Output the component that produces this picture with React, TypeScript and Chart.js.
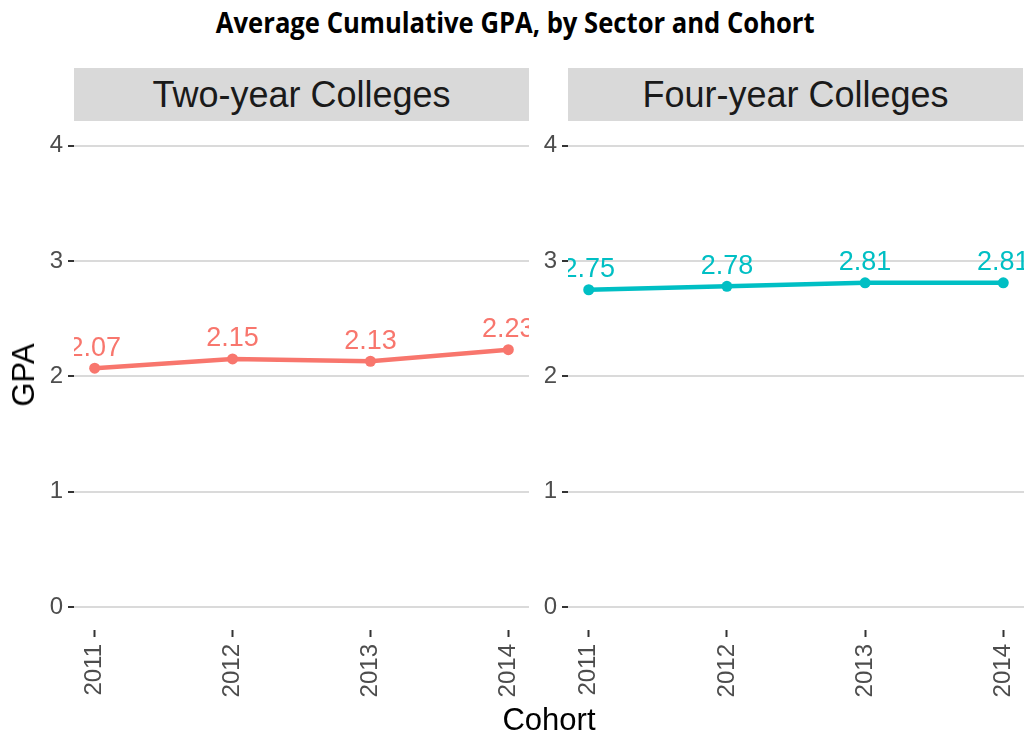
import React, { useEffect, useRef } from "react";
import { Chart, registerables } from "chart.js";

Chart.register(...registerables);

const cohorts = [2011, 2012, 2013, 2014];
const twoYearGPA = [2.07, 2.15, 2.13, 2.23];
const fourYearGPA = [2.75, 2.78, 2.81, 2.81];
const yTicks = [0, 1, 2, 3, 4];
const panelTitles = ["Two-year Colleges", "Four-year Colleges"];
const chartTitle = "Average Cumulative GPA, by Sector and Cohort";
const xTitle = "Cohort";
const yTitle = "GPA";
const seriesColors = ["#F8766D", "#00BFC4"];

const FONT = "'Liberation Sans', Arial, Helvetica, sans-serif";

const pointLabelPlugin = {
  id: "pointLabels",
  afterDatasetsDraw(chart: any) {
    const { ctx, chartArea } = chart;
    ctx.save();
    ctx.beginPath();
    ctx.rect(chartArea.left, chartArea.top, chartArea.right - chartArea.left, chartArea.bottom - chartArea.top);
    ctx.clip();
    chart.data.datasets.forEach((ds: any, i: number) => {
      const meta = chart.getDatasetMeta(i);
      meta.data.forEach((pt: any, j: number) => {
        const v = ds.data[j].y;
        ctx.fillStyle = ds.borderColor;
        ctx.font = `27px ${FONT}`;
        ctx.textAlign = "center";
        ctx.textBaseline = "middle";
        ctx.fillText(v.toFixed(2), pt.x, pt.y - 20);
      });
    });
    ctx.restore();
  },
};

function Panel(props: { values: number[]; color: string; left: number; width: number; yAxisWidth: number; padRight: number }) {
  const ref = useRef<HTMLCanvasElement>(null);
  useEffect(() => {
    if (!ref.current) return;
    const chart = new Chart(ref.current, {
      type: "line",
      data: {
        datasets: [
          {
            data: cohorts.map((c, i) => ({ x: c, y: props.values[i] })),
            borderColor: props.color,
            backgroundColor: props.color,
            borderWidth: 4.5,
            pointRadius: 5.5,
            pointHoverRadius: 5.5,
            pointBorderWidth: 0,
            tension: 0,
          },
        ],
      },
      options: {
        responsive: false,
        maintainAspectRatio: false,
        animation: false,
        events: [],
        layout: { padding: { top: 0, right: props.padRight, bottom: 0, left: 0 } },
        plugins: { legend: { display: false }, tooltip: { enabled: false }, title: { display: false } },
        scales: {
          x: {
            type: "linear",
            min: 2010.85,
            max: 2014.15,
            afterBuildTicks: (s: any) => {
              s.ticks = cohorts.map((v) => ({ value: v }));
            },
            afterFit: (s: any) => {
              s.height = 110;
              s.paddingLeft = 0;
              s.paddingRight = 0;
            },
            grid: { drawOnChartArea: false, drawTicks: true, tickLength: 7, tickColor: "#333333", tickWidth: 2 },
            border: { display: false },
            ticks: {
              minRotation: 90,
              maxRotation: 90,
              padding: 7,
              color: "#4D4D4D",
              font: { family: FONT, size: 24 },
              callback: (v: any) => String(v),
            },
          },
          y: {
            type: "linear",
            min: -0.2,
            max: 4.2,
            afterBuildTicks: (s: any) => {
              s.ticks = yTicks.map((v) => ({ value: v }));
            },
            afterFit: (s: any) => {
              s.width = props.yAxisWidth;
              s.paddingTop = 0;
              s.paddingBottom = 0;
            },
            grid: { color: "#DADADA", lineWidth: 2, drawTicks: true, tickLength: 6, tickColor: "#333333", tickWidth: 2 },
            border: { display: false },
            ticks: {
              padding: 5,
              color: "#4D4D4D",
              font: { family: FONT, size: 24 },
              callback: (v: any) => String(v),
            },
          },
        },
      } as any,
      plugins: [pointLabelPlugin],
    });
    return () => chart.destroy();
  }, []);
  return (
    <canvas
      ref={ref}
      width={props.width}
      height={623}
      style={{ position: "absolute", left: props.left, top: 117, width: props.width, height: 623 }}
    />
  );
}

const stripStyle = (left: number, width: number): React.CSSProperties => ({
  position: "absolute",
  left,
  top: 68,
  width,
  height: 53,
  background: "#D9D9D9",
  color: "#1A1A1A",
  fontFamily: FONT,
  fontSize: 36,
  lineHeight: "53px",
  textAlign: "center",
  whiteSpace: "nowrap",
});

export default function App() {
  return (
    <div style={{ position: "absolute", left: 0, top: 0, width: 1030, height: 740, background: "#FFFFFF", overflow: "hidden" }}>
      <div
        style={{
          position: "absolute",
          left: 0,
          top: 0,
          width: 1030,
          height: 44,
          lineHeight: "44px",
          textAlign: "center",
          fontFamily: "'Open Sans', sans-serif",
          fontWeight: "bold",
          fontSize: 28,
          color: "#000000",
          whiteSpace: "nowrap",
          transform: "scaleX(0.915)",
          transformOrigin: "518px 22px",
        }}
      >
        {chartTitle}
      </div>
      <div style={stripStyle(74, 455)}>{panelTitles[0]}</div>
      <div style={stripStyle(568, 455)}>{panelTitles[1]}</div>
      <Panel values={twoYearGPA} color={seriesColors[0]} left={0} width={540} yAxisWidth={74} padRight={11} />
      <Panel values={fourYearGPA} color={seriesColors[1]} left={540} width={490} yAxisWidth={28} padRight={6} />
      <div
        style={{
          position: "absolute",
          left: 24,
          top: 375,
          transform: "translate(-50%, -50%) rotate(-90deg)",
          fontFamily: FONT,
          fontSize: 31,
          color: "#000000",
          whiteSpace: "nowrap",
        }}
      >
        {yTitle}
      </div>
      <div
        style={{
          position: "absolute",
          left: 549,
          top: 720,
          transform: "translate(-50%, -50%)",
          fontFamily: FONT,
          fontSize: 31,
          color: "#000000",
          whiteSpace: "nowrap",
        }}
      >
        {xTitle}
      </div>
    </div>
  );
}
